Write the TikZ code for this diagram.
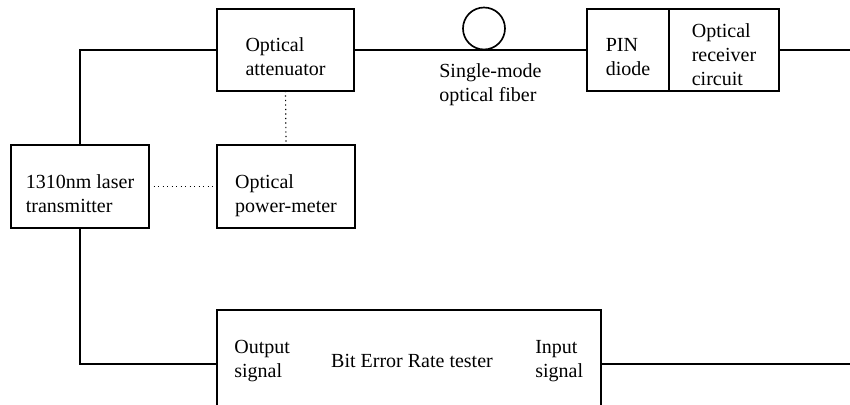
\documentclass[tikz,border=0pt]{standalone}
\usepackage{fontspec}
\setmainfont{Liberation Serif}
\usetikzlibrary{positioning}
\newcommand{\upgap}[1][19.5pt]{\rule{0pt}{#1}}
\newcommand{\downgap}{\rule[-3pt]{0pt}{3pt}}

\begin{document}
\begin{tikzpicture}[
  x=0.6pt, y=-0.6pt,
  font=\fontsize{12}{14.4}\selectfont,
  box/.style={draw, line width=1.1pt, align=left, inner sep=0pt, outer sep=0pt},
  link/.style={line width=1.1pt},
  probe/.style={dotted, line width=0.7pt},
  txt/.style={align=left, inner sep=0pt, anchor=west}
]
\useasboundingbox[fill=white] (0,0) rectangle (850,405);

\node[box, minimum width=82.2pt, minimum height=49.2pt] (atten) at (285.5,50) {\upgap Optical\\attenuator\downgap};
\node[box, minimum width=82.8pt, minimum height=49.8pt] (laser) at (80,186.5) {\upgap 1310nm laser\\transmitter\downgap};
\node[box, minimum width=82.8pt, minimum height=49.8pt] (meter) at (286,186.5) {\upgap Optical\\power-meter\downgap};
\node[draw, circle, line width=1pt, minimum size=25.2pt, inner sep=0pt] (coil) at (484,28.5) {};
\node[txt] (fiber) at (439,85) {Single-mode\\optical fiber};
\node[box, minimum width=49.2pt, minimum height=49.2pt] (pin) at (628,50) {\upgap PIN\\diode\downgap};
\node[box, right=0pt of pin, minimum width=66pt, minimum height=49.2pt] (recv) {\upgap[17pt]Optical\\receiver\\circuit\downgap};
\node[box, minimum width=230.4pt, minimum height=64.8pt] (ber) at (409,364) {};
\node[txt] (outsig) at (234,361) {Output\\signal};
\node (bertitle) at (412,361) {Bit Error Rate tester};
\node[txt] (insig) at (535,361) {Input\\signal};
\coordinate (rxend) at (850,50);
\coordinate (txend) at (850,364);

\draw[link] (laser.north) |- (atten.west);
\draw[link] (atten.east) -- (pin.west);
\draw[link] (recv.east) -- (rxend);
\draw[link] (laser.south) |- (ber.west);
\draw[link] (ber.east) -- (txend);
\draw[probe] (atten.south) -- (meter.north);
\draw[probe] (laser.east) -- (meter.west);
\end{tikzpicture}
\end{document}
